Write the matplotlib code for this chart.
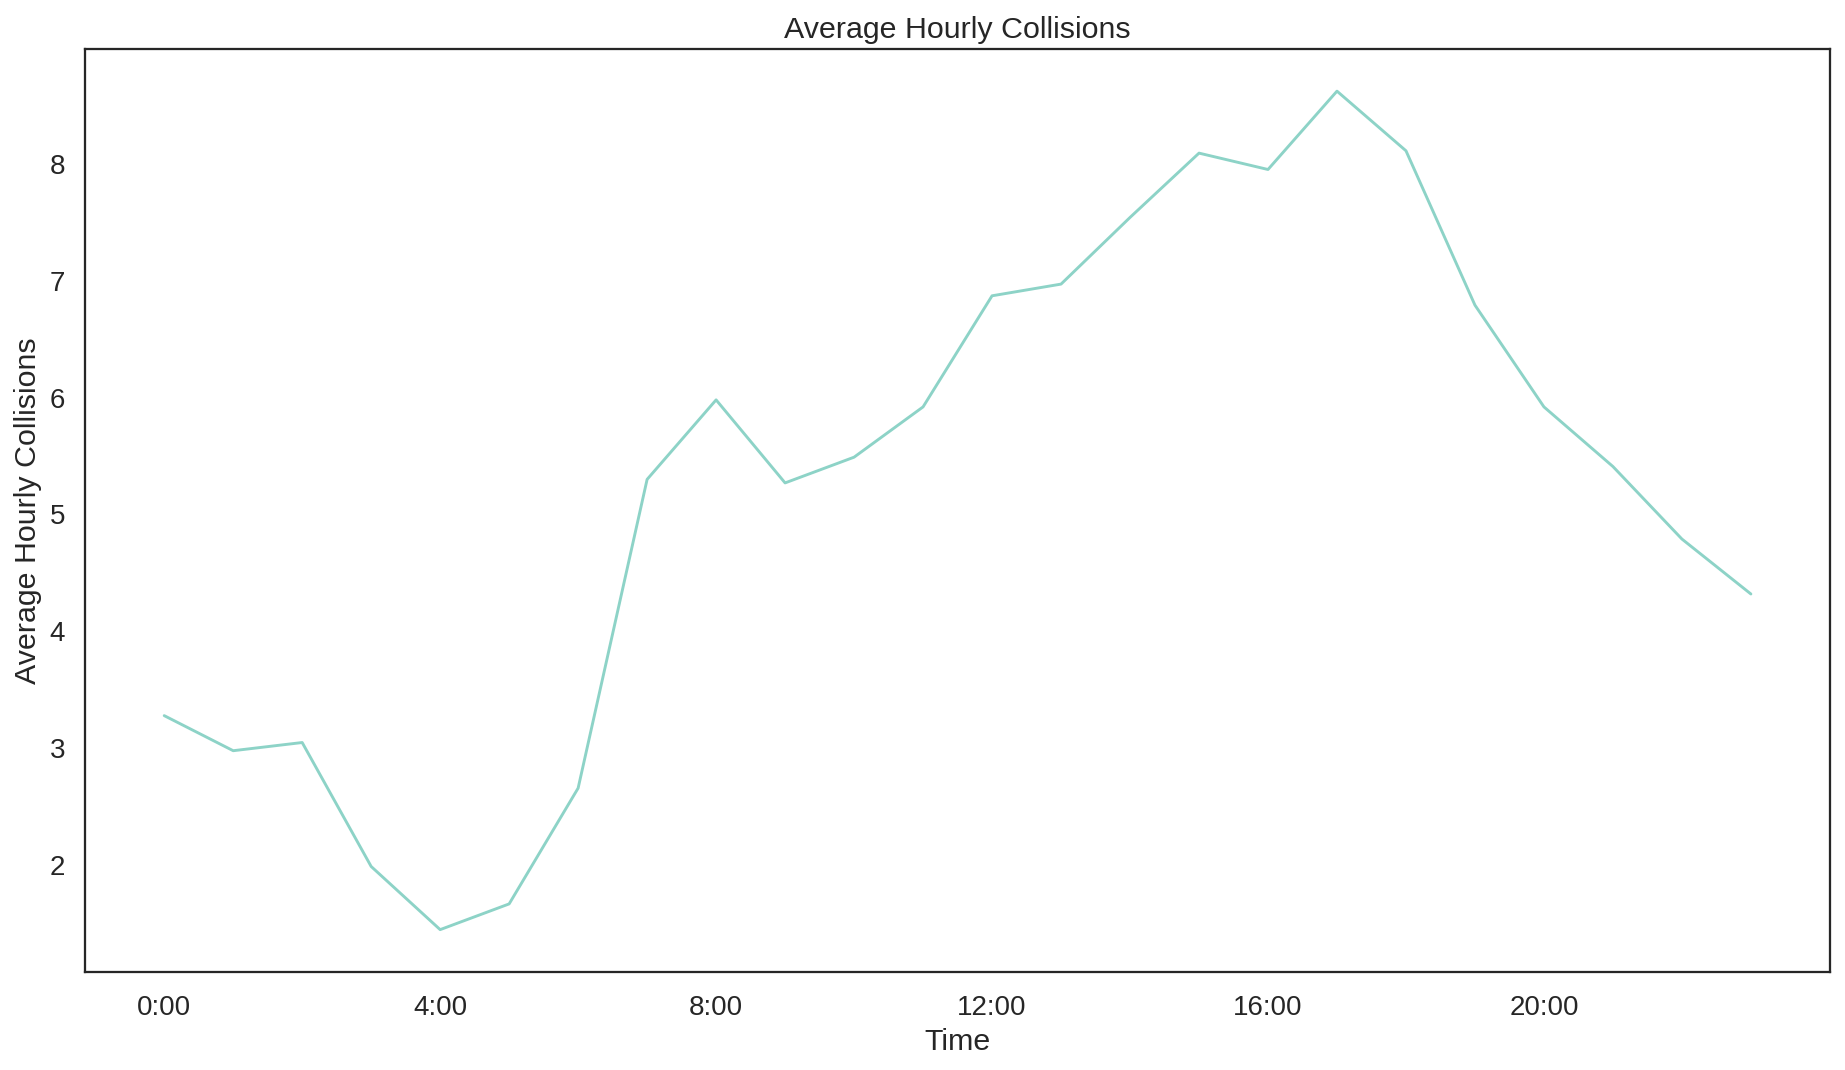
import matplotlib
matplotlib.use("Agg")
import matplotlib.pyplot as plt
import seaborn as sns

# average collisions per hour of day
hours = list(range(24))
avg_collisions = [3.28, 2.98, 3.05, 1.99, 1.45, 1.67, 2.66, 5.30, 5.98, 5.27, 5.49, 5.92,
                  6.87, 6.97, 7.54, 8.09, 7.95, 8.62, 8.11, 6.79, 5.92, 5.41, 4.79, 4.32]
tick_hours = [0, 4, 8, 12, 16, 20]
tick_labels = ['0:00', '4:00', '8:00', '12:00', '16:00', '20:00']

sns.set_theme(style='white', context='notebook', font_scale=1.4)
plt.rcParams['font.family'] = ['Liberation Sans', 'DejaVu Sans']

DPI = 130
fig, ax = plt.subplots(figsize=(1845 / DPI, 1070 / DPI), dpi=DPI)
fig.subplots_adjust(left=0.046, right=0.992, top=0.954, bottom=0.092)

ax.plot(hours, avg_collisions, color='#8dd3c7', linewidth=1.6)
ax.set_xticks(tick_hours)
ax.set_xticklabels(tick_labels)
ax.tick_params(axis='x', pad=7)
ax.tick_params(axis='y', pad=5)
ax.set_title('Average Hourly Collisions')
ax.set_xlabel('Time')
ax.set_ylabel('Average Hourly Collisions')

fig.savefig('out.png', dpi=DPI)
